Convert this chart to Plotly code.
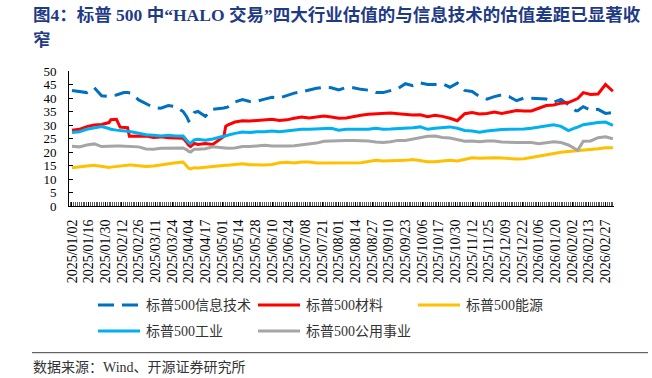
import plotly.graph_objects as go

# ---------------- data ----------------
tick_labels = [
    "2025/01/02", "2025/01/16", "2025/01/30", "2025/02/12", "2025/02/26", "2025/03/11",
    "2025/03/24", "2025/04/04", "2025/04/17", "2025/05/01", "2025/05/14", "2025/05/28",
    "2025/06/10", "2025/06/24", "2025/07/08", "2025/07/21", "2025/08/01", "2025/08/14",
    "2025/08/27", "2025/09/10", "2025/09/23", "2025/10/06", "2025/10/17", "2025/10/30",
    "2025/11/12", "2025/11/25", "2025/12/09", "2025/12/22", "2026/01/06", "2026/01/20",
    "2026/02/02", "2026/02/13", "2026/02/27",
]
# trading-day index of each tick label (labels every 9 trading days)
tick_days = [0, 9, 18, 27, 36, 45, 54, 63, 72, 81, 90, 99, 108, 117, 126, 135, 144,
             153, 162, 171, 180, 189, 198, 207, 216, 225, 234, 243, 252, 261, 270, 279, 288]

# trading-day index of each sampled observation
day_idx = [0, 4, 8, 12, 16, 20, 21, 24, 26, 28, 30, 31, 32, 36, 40, 44, 48, 52, 56, 60,
           62, 63, 64, 66, 68, 72, 76, 80, 82, 83, 84, 88, 92, 96, 100, 104, 108, 112,
           116, 120, 124, 128, 132, 136, 140, 144, 148, 152, 156, 160, 164, 168, 172,
           176, 180, 184, 188, 192, 196, 200, 204, 208, 212, 216, 220, 224, 228, 232,
           236, 240, 244, 248, 252, 256, 260, 264, 268, 272, 273, 276, 280, 284, 288, 292]

info_tech = [42.8, 42.3, 42.0, 43.8, 40.8, 40.6, 40.8, 41.1, 41.5, 42.0, 42.0, 42.0, 41.8,
             39.3, 38.0, 36.5, 36.2, 37.2, 36.8, 35.0, 33.0, 31.5, 32.0, 34.6, 35.0, 33.2,
             35.8, 36.0, 36.3, 36.5, 36.6, 38.5, 39.4, 38.7, 38.8, 39.6, 40.3, 40.0, 41.0,
             41.8, 42.3, 43.0, 43.6, 44.0, 43.8, 43.0, 43.9, 43.8, 43.2, 42.9, 42.0, 42.0,
             42.8, 43.5, 45.3, 44.6, 45.6, 45.0, 45.0, 45.3, 44.0, 45.5, 42.8, 42.4, 40.5,
             39.6, 40.5, 41.2, 40.5, 39.0, 40.0, 39.9, 39.9, 39.6, 38.4, 39.5, 37.5, 35.3,
             35.3, 36.8, 35.5, 35.8, 34.3, 34.6]

materials = [28.1, 28.4, 29.4, 30.0, 30.2, 30.9, 32.0, 32.1, 29.2, 29.1, 29.0, 25.8, 25.8,
             26.0, 25.9, 25.4, 25.6, 25.3, 25.3, 25.1, 23.5, 22.5, 22.0, 23.2, 22.8, 23.1,
             22.8, 24.6, 25.8, 29.5, 30.0, 31.1, 31.6, 31.5, 31.7, 32.1, 32.1, 31.7, 31.9,
             32.5, 33.0, 32.6, 33.0, 33.3, 33.0, 32.5, 32.6, 33.2, 33.6, 34.0, 34.2, 34.2,
             34.4, 34.2, 34.0, 33.7, 33.8, 33.1, 33.6, 33.2, 32.5, 31.6, 34.2, 34.6, 34.1,
             34.3, 34.8, 34.3, 34.8, 35.4, 35.2, 35.2, 36.2, 37.2, 37.4, 38.1, 38.3, 39.5,
             39.8, 42.0, 41.3, 41.5, 45.0, 42.5]

energy = [14.2, 14.4, 14.8, 15.1, 14.6, 14.3, 14.4, 14.7, 14.9, 15.1, 15.1, 15.2, 15.2,
          14.8, 14.6, 14.8, 15.2, 15.8, 16.0, 16.3, 14.6, 14.0, 13.7, 14.2, 14.1, 14.4,
          14.8, 14.9, 15.0, 15.1, 15.1, 15.4, 15.6, 15.3, 15.2, 15.2, 15.4, 16.0, 16.2,
          15.9, 16.3, 16.3, 15.9, 15.9, 16.0, 15.9, 15.9, 15.8, 16.0, 16.5, 16.9, 16.7,
          16.7, 16.8, 16.9, 17.2, 16.9, 16.4, 16.4, 16.7, 16.9, 16.7, 17.4, 17.9, 17.7,
          17.9, 17.9, 17.8, 17.5, 17.4, 17.5, 18.0, 18.4, 18.9, 19.3, 19.9, 20.2, 20.4,
          20.4, 20.6, 20.9, 21.2, 21.6, 21.6]

industrials = [27.2, 27.5, 28.4, 29.0, 29.4, 28.7, 28.4, 28.1, 28.0, 28.0, 27.8, 27.6, 27.5,
               27.0, 26.4, 26.2, 25.9, 26.2, 25.9, 25.9, 24.5, 23.5, 23.2, 24.5, 24.7, 24.4,
               24.8, 25.4, 25.8, 26.0, 26.2, 26.9, 27.4, 27.2, 27.5, 27.5, 27.8, 27.5, 27.8,
               28.1, 28.4, 28.4, 28.6, 28.8, 28.8, 28.1, 28.4, 28.4, 28.4, 28.4, 28.8, 28.4,
               28.5, 28.6, 28.8, 29.0, 29.3, 28.4, 28.8, 29.0, 29.3, 28.8, 28.0, 27.8, 27.3,
               27.8, 28.1, 28.3, 28.4, 28.4, 28.5, 28.8, 29.3, 29.6, 30.1, 29.5, 27.9, 29.0,
               29.2, 30.1, 30.6, 30.9, 31.1, 29.9]

utilities = [22.1, 21.9, 22.6, 23.0, 22.0, 22.2, 22.2, 22.2, 22.2, 22.1, 22.1, 22.1, 22.1,
             21.9, 21.1, 21.0, 21.4, 21.4, 21.5, 21.5, 20.8, 20.2, 20.0, 21.0, 21.0, 21.2,
             21.9, 21.7, 21.5, 21.5, 21.4, 21.5, 22.0, 22.0, 22.2, 22.5, 22.2, 22.1, 22.2,
             22.3, 22.6, 23.1, 23.3, 24.0, 24.1, 24.4, 24.3, 24.3, 24.2, 24.1, 23.7, 23.5,
             23.8, 24.3, 24.3, 24.8, 25.4, 25.8, 25.9, 25.4, 25.2, 24.7, 24.0, 24.1, 23.8,
             24.1, 24.1, 23.7, 23.5, 23.5, 23.5, 23.5, 23.1, 23.5, 23.8, 23.5, 22.6, 21.0,
             20.6, 24.0, 24.1, 25.3, 25.6, 24.9]

series_names = ["标普500信息技术", "标普500材料", "标普500能源", "标普500工业", "标普500公用事业"]
series_values = [info_tech, materials, energy, industrials, utilities]
series_colors = ["#0070C0", "#FF0000", "#FFC000", "#00B0F0", "#A5A5A5"]
series_dash = ["16px,8px", "solid", "solid", "solid", "solid"]

title_line1 = "图4：标普 500 中“HALO 交易”四大行业估值的与信息技术的估值差距已显著收"
title_line2 = "窄"
source_text = "数据来源：Wind、开源证券研究所"

# ---------------- layout constants ----------------
W, H = 652, 378
ML, MR, MT, MB = 69, 38, 71, 172
PW, PH = W - ML - MR, H - MT - MB

def px_x(p):
    return (p - ML) / PW

def px_y(p):
    return 1 - (p - MT) / PH

SERIF = "Liberation Serif, Noto Sans CJK SC, serif"
TITLE_FONT = "Liberation Serif, Noto Sans CJK SC, serif"

fig = go.Figure()
for name, vals, col, dash in zip(series_names, series_values, series_colors, series_dash):
    fig.add_trace(go.Scatter(
        x=day_idx, y=vals, mode="lines", name=name,
        line=dict(color=col, width=3, dash=dash),
        showlegend=False, hoverinfo="skip",
    ))

shapes = []
annotations = []

# custom legend
legend_pos = [(98, 305), (258, 305), (418, 305), (98, 331), (258, 331)]
for (lx, ly), name, col, dash in zip(legend_pos, series_names, series_colors, series_dash):
    shapes.append(dict(type="line", xref="paper", yref="paper",
                       x0=px_x(lx), x1=px_x(lx + 42), y0=px_y(ly), y1=px_y(ly),
                       line=dict(color=col, width=3, dash=dash)))
    annotations.append(dict(xref="paper", yref="paper", x=px_x(lx + 46), y=px_y(ly),
                            xanchor="left", yanchor="middle", showarrow=False,
                            text=name, font=dict(family=SERIF, size=14, color="#333333")))

# separator line and source
shapes.append(dict(type="line", xref="paper", yref="paper",
                   x0=px_x(32), x1=px_x(648), y0=px_y(352.7), y1=px_y(352.7),
                   line=dict(color="#404040", width=1)))
annotations.append(dict(xref="paper", yref="paper", x=px_x(31), y=px_y(367.5),
                        xanchor="left", yanchor="middle", showarrow=False,
                        text=source_text, font=dict(family=SERIF, size=14, color="#333333")))

# title (two lines)
annotations.append(dict(xref="paper", yref="paper", x=px_x(31), y=px_y(15),
                        xanchor="left", yanchor="middle", showarrow=False,
                        text="<b>" + title_line1 + "</b>",
                        font=dict(family=TITLE_FONT, size=17.5, color="#1F3B86")))
annotations.append(dict(xref="paper", yref="paper", x=px_x(31), y=px_y(40),
                        xanchor="left", yanchor="middle", showarrow=False,
                        text="<b>" + title_line2 + "</b>",
                        font=dict(family=TITLE_FONT, size=17.5, color="#1F3B86")))

fig.update_layout(
    width=W, height=H,
    margin=dict(l=ML, r=MR, t=MT, b=MB, pad=0),
    paper_bgcolor="white", plot_bgcolor="white",
    shapes=shapes, annotations=annotations,
    showlegend=False,
    font=dict(family=SERIF, color="#000000"),
)
fig.update_xaxes(
    range=[-1.6, 292.6], showgrid=False, zeroline=False,
    showline=True, linecolor="#000000", linewidth=1,
    tickmode="array", tickvals=tick_days, ticktext=tick_labels, tickangle=-90,
    ticks="inside", ticklen=4, tickcolor="#000000",
    tickfont=dict(family=SERIF, size=14, color="#000000"),
    ticklabelstandoff=7,
    minor=dict(tickmode="linear", tick0=0, dtick=1, ticks="inside", ticklen=4,
               tickcolor="#555555", tickwidth=1, showgrid=False),
)
fig.update_yaxes(
    range=[0, 50], dtick=5, tick0=0, showgrid=False, zeroline=False,
    showline=True, linecolor="#000000", linewidth=1,
    ticks="inside", ticklen=4, tickcolor="#000000",
    tickfont=dict(family=SERIF, size=13, color="#000000"),
    ticklabelstandoff=9,
)

fig.write_html("out.html", config={"displayModeBar": False},
               post_script="document.body.style.margin='0';")
